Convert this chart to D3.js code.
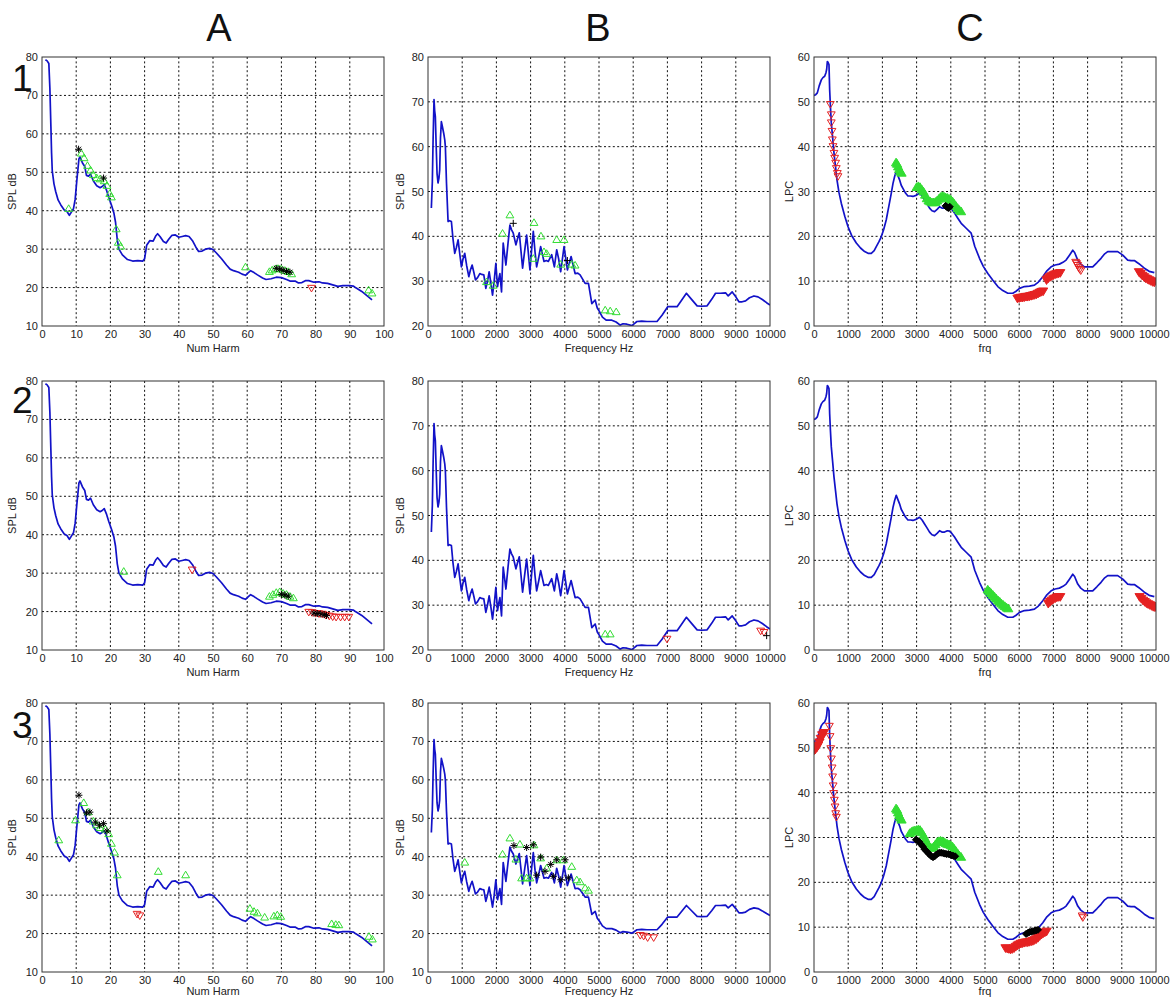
<!DOCTYPE html>
<html>
<head>
<meta charset="utf-8">
<script src="https://cdn.jsdelivr.net/npm/d3@7"></script>
<style>
body { margin: 0; background: #fff; }
text { font-family: "Liberation Sans", Arial, sans-serif; }
</style>
</head>
<body>
<svg id="fig" width="1170" height="998"></svg>
<script>
// column / row titles
var colTitles = ["A", "B", "C"];
var rowTitles = ["1", "2", "3"];

// x ticks
var harmTicks = [0, 10, 20, 30, 40, 50, 60, 70, 80, 90, 100];
var freqTicks = [0, 1000, 2000, 3000, 4000, 5000, 6000, 7000, 8000, 9000, 10000];

// spectrum envelope over harmonic number (column A, same in every row)
var harmCurve = [[1,79.3],[1.5,79],[2,78.3],[2.3,72],[2.6,62],[2.8,55],[3,50.4],[3.5,47],[4,45],[4.7,42.8],[5.5,41.5],[6.5,40.2],[7.3,39.8],[8,38.8],[8.5,39.5],[9.2,40.5],[9.7,43],[10.2,48],[10.8,53.5],[11.1,54],[11.8,52.5],[12.5,51.5],[13,49.2],[13.6,49],[14.2,49.5],[15,47.8],[16,46.5],[17,46],[17.6,46.3],[18.2,46.8],[18.8,45.5],[19.5,43.5],[20.3,41.5],[21,39.5],[21.5,37],[22,32.5],[22.5,30],[23.5,28.5],[25,27.3],[26.5,26.9],[28,27],[29.5,26.9],[30,27.5],[30.6,31],[31.5,32.2],[32.5,32.1],[33.3,33.5],[33.8,34],[34.5,33.3],[35.5,32],[36.3,31.6],[37,32.5],[38,33.6],[39,33.7],[40,33.1],[41,33.3],[42,33.5],[43,33.3],[44,32.2],[45,30.5],[45.8,29.4],[46.8,29.5],[47.8,30],[49,30.2],[50,29.9],[51,29],[52.5,27.5],[54,25.8],[55,24.8],[56,24.4],[57.5,24],[58.5,23.5],[59.5,23.2],[60.5,24],[61,24.4],[62,23.9],[63,23.3],[64.5,22.5],[65.5,22.1],[67,22.3],[68.5,22.7],[70,22.6],[71.5,22.1],[72.5,21.7],[74,21.7],[75,21.2],[76,21.3],[77,21.8],[78,21.8],[79.5,21.4],[81,21.5],[82,21.2],[83.5,21.1],[85,20.7],[86.5,20.3],[88,20.5],[90,20.5],[91,20.4],[92,19.8],[93.5,19],[95,17.9],[96.5,16.8]];

// spectrum over frequency (column B)
var freqCurve = [[98,46.3],[127,52.2],[150,62],[176,70.5],[195,68],[215,66.7],[240,60],[265,54],[293,51.9],[320,53],[342,54.8],[365,62],[391,65.6],[420,64.5],[459,63],[490,61.5],[508,60],[540,52],[587,43.3],[630,43.5],[684,43.3],[730,39.5],[782,36.2],[830,37.5],[880,39.2],[930,36],[977,33.2],[1025,35],[1075,36.2],[1130,33.5],[1193,31],[1240,32.5],[1290,33.6],[1340,32],[1388,30.3],[1450,30.8],[1515,31.7],[1570,31.5],[1632,31.4],[1691,28.4],[1740,30],[1789,32.1],[1840,29.5],[1887,26.9],[1935,30],[1984,34],[2033,28.8],[2070,30.5],[2102,31.7],[2150,27.6],[2199,38.5],[2240,36],[2278,33.6],[2340,38.5],[2395,42.5],[2440,41.5],[2493,40.7],[2571,38.1],[2620,39.5],[2669,40.8],[2766,32.9],[2830,37],[2884,40.3],[2981,32.5],[3030,37],[3079,41.1],[3130,36.5],[3177,33.2],[3240,35.5],[3294,37.7],[3392,34.4],[3460,34.6],[3519,34.4],[3617,35.9],[3695,33.2],[3763,37],[3820,35],[3880,32.1],[3978,37.7],[4076,32.5],[4130,34],[4184,35.5],[4301,31.7],[4380,31.8],[4447,31.4],[4594,29.5],[4692,29.5],[4790,25],[4888,25.8],[4950,24],[5015,23.2],[5100,22],[5210,21.3],[5376,21.3],[5500,20.9],[5620,20.2],[5700,20.5],[5816,20.4],[5963,20.1],[6109,21],[6250,21.1],[6403,21],[6550,21],[6696,21],[6843,22.4],[7009,24.3],[7150,24.3],[7283,24.3],[7420,25.8],[7556,27.3],[7700,26],[7869,24.5],[8000,24.4],[8162,24.5],[8300,26],[8407,27.3],[8550,27.3],[8700,27.4],[8778,26.7],[8895,27.6],[9000,26.5],[9091,25.4],[9186,25.4],[9286,25.6],[9400,26.3],[9531,26.7],[9650,26.5],[9775,25.9],[9900,25.2],[10000,24.7]];

// LPC envelope (column C)
var lpcCurve = [[0,51.4],[50,51.6],[97,52],[150,53.5],[214,54.9],[260,55.4],[312,55.7],[350,56.5],[370,57.2],[390,59],[410,58.8],[438,58.3],[450,55],[458,52.7],[480,49],[506,45.3],[545,42],[584,38.6],[630,35.5],[672,32.6],[730,29.8],[798,27.4],[900,24.5],[993,22.2],[1100,20.2],[1237,18.5],[1360,17.4],[1480,16.6],[1580,16.2],[1675,16.2],[1760,16.8],[1821,17.7],[1900,18.8],[1967,19.9],[2040,21.6],[2113,23.7],[2190,26.8],[2259,29.6],[2310,31.8],[2356,33.3],[2405,34.5],[2450,33.6],[2502,32.6],[2550,31.4],[2600,30.7],[2680,29.6],[2746,29],[2820,29],[2892,28.9],[3000,29.2],[3087,29.6],[3160,29],[3233,28.1],[3300,27.3],[3379,26.3],[3450,25.7],[3525,25.5],[3600,26],[3671,26.6],[3740,26.3],[3817,26.3],[3900,26.6],[3963,26.5],[4030,26],[4109,25.2],[4200,24.1],[4304,22.9],[4450,21.8],[4596,20.7],[4700,17.8],[4839,15.1],[4950,13.3],[5083,11.7],[5230,10.2],[5375,8.8],[5520,7.9],[5667,7.3],[5813,7.3],[5900,7.7],[6008,8.4],[6154,8.8],[6300,8.9],[6446,9.1],[6560,9.8],[6690,11],[6810,12.3],[6933,13.2],[7050,13.6],[7176,13.8],[7280,14.2],[7371,14.7],[7470,15.8],[7566,16.9],[7620,16.4],[7712,14.7],[7800,13.8],[7907,13.2],[8030,13.2],[8150,13.2],[8270,14.1],[8393,15.1],[8500,16.1],[8588,16.6],[8730,16.6],[8880,16.6],[9030,15.8],[9172,14.7],[9270,14.6],[9367,14.6],[9500,13.9],[9659,12.9],[9800,12.2],[9951,11.9]];

// ---- markers, column A ----
var a1Up = [[7.8,40.6],[11.5,55],[12.3,53.8],[13.3,51.8],[14.2,50.6],[15,49.4],[16,48.6],[17,48.3],[18.2,47.8],[19,46.6],[19.8,44.5],[20.3,43.6],[21.7,35.3],[22.3,31.8],[23,30.8],[59.5,25.4],[66.5,24.2],[67.3,24.6],[68.2,24.9],[69,25],[70,24.9],[71,24.5],[72,24.2],[73,23.6],[95.5,19.4],[96.5,18.6]];
var a1Star = [[10.7,56],[18,48.5],[68.5,25],[69.5,24.8],[70.5,24.5],[71.5,24.2],[72.5,24]];
var a1Down = [[78.8,19.8]];

var a2Up = [[23.9,30.5],[66.5,24],[67.5,24.5],[68.5,25],[69.5,25.2],[70.5,24.8],[71.5,24.5],[72.5,24],[73.5,23.6]];
var a2Star = [[70,24.5],[71,24.3],[72,24],[79.5,19.6],[80.5,19.5],[81.5,19.4],[82.5,19.2],[83.2,19]];
var a2Down = [[43.9,30.8],[78,19.8],[79,19.7],[80,19.5],[81,19.4],[82,19.3],[83,19],[84,18.8],[85,18.6],[86,18.5],[87.3,18.5],[88.5,18.5],[89.7,18.5]];

var a3Up = [[4.9,44.4],[9.8,49.6],[12.2,54.1],[13.5,51.7],[15,49.3],[16,48.3],[17,47.6],[18.5,47.2],[19.5,46],[20.3,43.5],[21.2,41.2],[22,35.3],[34,36.2],[42,35.3],[60.8,26.6],[62,25.8],[63,25.4],[65.1,24.3],[67.8,24.6],[68.8,24.9],[69.8,24.5],[84.7,22.6],[85.9,22.4],[86.8,22.3],[95.6,19.3],[96.6,18.6]];
var a3Star = [[10.8,56],[13,51.4],[14,51.6],[15.6,49],[16.8,48.2],[18,48.6],[19,46.7]];
var a3Down = [[27.8,25],[28.6,24.6]];

// ---- markers, column B ----
var b1Up = [[1711,29.9],[1906,29.1],[2180,40.7],[2395,44.8],[3079,35.1],[3099,43.1],[3304,40.1],[3392,36.6],[3470,36.2],[3763,39.3],[3978,39.3],[3880,33.8],[4203,33.8],[4301,33.6],[5181,23.6],[5327,23.4],[5503,23.2]];
var b1Plus = [[2493,42.9],[4076,34.6]];

var b2Up = [[5181,23.6],[5327,23.6]];
var b2Down = [[6989,22.4],[9726,24.2],[9824,23.9]];
var b2Plus = [[9902,23.2]];

var b3Up = [[1075,38.6],[2180,40.7],[2395,44.9],[2571,39.4],[2688,43.3],[2737,34.5],[2884,34.5],[2981,34.5],[3099,43.1],[3294,39.7],[3470,37.1],[3763,39.2],[3959,39.2],[4203,37.5],[4350,34],[4448,33.5],[4594,31.9],[4692,31.3]];
var b3Star = [[2512,42.9],[2884,42.4],[3079,43.1],[3177,35.2],[3294,39.9],[3421,36.2],[3587,38],[3665,34.9],[3763,39.2],[3880,34],[4008,39.2],[4105,34.5]];
var b3Down = [[6207,19.5],[6305,19.3],[6422,18.9],[6598,18.9]];

// ---- markers, column C ----
var c1Down = [[477,49.4],[506,47.1],[506,45.3],[526,43.4],[536,41.5],[555,40],[584,38.5],[604,37.4],[633,36.3],[652,35.1],[682,34],[701,33.3],[7650,14.2],[7680,13.9],[7710,13.5],[7740,13],[7770,12.6],[7800,12.3]];
var c1UpFill = [[2400,36.5],[2430,36.2],[2460,35.6],[2490,35],[2520,34.5],[2560,34.2],[3000,31],[3050,31.2],[3100,31],[3150,30.5],[3200,30],[3250,29.3],[3300,28.5],[3350,28],[3400,27.8],[3450,27.6],[3500,27.6],[3550,27.7],[3600,28],[3650,28.4],[3700,28.8],[3750,29],[3800,28.9],[3850,28.7],[3900,28.6],[3950,28.4],[4000,28.2],[4050,27.8],[4100,27.3],[4150,26.8],[4200,26.3],[4250,25.9],[4300,25.6]];
var c1StarFill = [[3850,26.8],[3880,26.6],[3910,26.4],[3940,26.3],[3970,26.6]];
var c1DownFill = [[5950,6.1],[6000,6.2],[6050,6.3],[6100,6.3],[6150,6.4],[6200,6.5],[6250,6.5],[6300,6.6],[6350,6.7],[6400,6.8],[6450,6.9],[6500,7],[6550,7.2],[6600,7.4],[6650,7.6],[6700,7.7],[6800,10.2],[6850,10.6],[6900,10.9],[6950,11.1],[7000,11.3],[7050,11.5],[7100,11.6],[7150,11.7],[7200,11.8],[9500,12],[9550,11.6],[9600,11.2],[9650,10.9],[9700,10.6],[9750,10.4],[9800,10.2],[9850,10],[9900,9.8],[9950,9.7]];

var c2UpFill = [[5080,13.5],[5130,13.1],[5180,12.7],[5230,12.3],[5280,11.9],[5330,11.5],[5380,11.1],[5430,10.8],[5480,10.4],[5530,10.1],[5580,9.8],[5630,9.5],[5680,9.3]];
var c2DownFill = [[6850,10.3],[6900,10.7],[6950,11],[7000,11.3],[7050,11.5],[7100,11.7],[7150,11.8],[7200,11.8],[9520,11.8],[9570,11.4],[9620,11],[9670,10.7],[9720,10.4],[9770,10.2],[9820,10],[9870,9.8],[9920,9.6],[9970,9.5]];

var c3Down = [[450,54.8],[470,52.5],[490,49.8],[510,47.5],[530,45.5],[545,43.5],[560,41.5],[575,39.8],[595,38.3],[615,36.8],[635,35.3],[655,34.5],[7840,12.5],[7860,12.1]];
var c3DownFill = [[0,49.4],[40,49.6],[80,50],[120,50.5],[160,51.2],[200,52],[240,52.8],[290,53.3],[5600,5.3],[5650,5.2],[5700,5.1],[5750,5],[5800,5.1],[5850,5.3],[5900,5.6],[5950,5.9],[6000,6.1],[6050,6.3],[6100,6.4],[6150,6.5],[6200,6.6],[6250,6.6],[6300,6.7],[6350,6.8],[6400,6.9],[6450,7.1],[6500,7.3],[6550,7.6],[6600,8],[6650,8.3],[6700,8.6],[6750,8.8],[6800,9]];
var c3UpFill = [[2400,36.5],[2430,36.2],[2460,35.6],[2490,35],[2520,34.5],[2560,34],[2800,31],[2850,31.3],[2900,31.5],[2950,31.6],[3000,31.7],[3050,31.8],[3100,31.7],[3150,31.2],[3200,30.5],[3250,29.8],[3300,29],[3350,28.3],[3400,27.8],[3450,27.7],[3500,28],[3550,28.5],[3600,29],[3650,29.2],[3700,29.3],[3750,29.2],[3800,29],[3850,28.8],[3900,28.6],[3950,28.5],[4000,28.3],[4050,28],[4100,27.5],[4150,27],[4200,26.5],[4250,26],[4300,25.7]];
var c3StarFill = [[2980,29.5],[3030,29.3],[3080,29],[3130,28.5],[3180,28],[3230,27.4],[3280,27],[3330,26.6],[3380,26.2],[3430,25.8],[3480,25.6],[3530,25.8],[3580,26.2],[3630,26.5],[3680,26.6],[3730,26.6],[3780,26.5],[3830,26.4],[3880,26.3],[3930,26.3],[3980,26.2],[4030,26],[4080,25.9],[4130,25.8],[6200,8.5],[6250,8.7],[6300,8.9],[6350,9],[6400,9.1],[6450,9.2],[6500,9.3],[6550,9.4]];

// ---------------------------------------------------------------
var svg = d3.select("#fig");
var pw = 342, ph = 269;
var lefts = [42, 428, 814];
var tops = [57, 381, 703];
var green = "#33dd33", red = "#e52222", blue = "#1212c8";

var columns = [
    {curve: harmCurve, xdom: [0, 100], xticks: harmTicks, xlabel: "Num Harm", ylabel: "SPL dB", ylabOff: -26},
    {curve: freqCurve, xdom: [0, 10000], xticks: freqTicks, xlabel: "Frequency Hz", ylabel: "SPL dB", ylabOff: -24},
    {curve: lpcCurve, xdom: [0, 10000], xticks: freqTicks, xlabel: "frq", ylabel: "LPC", ylabOff: -21}
];

// each panel: y range + its marker sets
var panels = [
    {r: 0, c: 0, ydom: [10, 80], marks: [[a1Up, "up"], [a1Down, "down"], [a1Star, "star"]]},
    {r: 0, c: 1, ydom: [20, 80], marks: [[b1Up, "up"], [b1Plus, "plus"]]},
    {r: 0, c: 2, ydom: [0, 60], marks: [[c1Down, "down"], [c1UpFill, "upf"], [c1DownFill, "downf"], [c1StarFill, "blk"]]},
    {r: 1, c: 0, ydom: [10, 80], marks: [[a2Up, "up"], [a2Down, "down"], [a2Star, "star"]]},
    {r: 1, c: 1, ydom: [20, 80], marks: [[b2Up, "up"], [b2Down, "down"], [b2Plus, "plus"]]},
    {r: 1, c: 2, ydom: [0, 60], marks: [[c2UpFill, "upf"], [c2DownFill, "downf"]]},
    {r: 2, c: 0, ydom: [10, 80], marks: [[a3Up, "up"], [a3Down, "down"], [a3Star, "star"]]},
    {r: 2, c: 1, ydom: [10, 80], marks: [[b3Up, "up"], [b3Down, "down"], [b3Star, "star"]]},
    {r: 2, c: 2, ydom: [0, 60], marks: [[c3Down, "down"], [c3DownFill, "downf"], [c3UpFill, "upf"], [c3StarFill, "blk"]]}
];

var shapes = {
    up:    {d: "M0,-3.6L3.9,3L-3.9,3Z", stroke: green, fill: "none"},
    down:  {d: "M0,3.6L3.9,-3L-3.9,-3Z", stroke: red, fill: "none"},
    upf:   {d: "M0,-4.2L4.6,3.5L-4.6,3.5Z", stroke: green, fill: green},
    downf: {d: "M0,4.2L4.6,-3.5L-4.6,-3.5Z", stroke: red, fill: red},
    blk:   {d: "M0,-3.5L3.5,0L0,3.5L-3.5,0Z", stroke: "#000", fill: "#000"},
    star:  {d: "M-3.5,0H3.5M0,-3.5V3.5M-2.5,-2.5L2.5,2.5M-2.5,2.5L2.5,-2.5", stroke: "#000", fill: "none"},
    plus:  {d: "M-3.5,0H3.5M0,-3.5V3.5", stroke: "#000", fill: "none"}
};

panels.forEach(function(p, i) {
    var col = columns[p.c];
    var g = svg.append("g").attr("transform", "translate(" + lefts[p.c] + "," + tops[p.r] + ")");
    var x = d3.scaleLinear().domain(col.xdom).range([0, pw]);
    var y = d3.scaleLinear().domain(p.ydom).range([ph, 0]);
    var yticks = d3.range(p.ydom[0], p.ydom[1] + 1, 10);

    g.append("rect").attr("width", pw).attr("height", ph).attr("fill", "#fff");

    // dotted grid
    g.append("g").selectAll("line.vx").data(col.xticks.slice(1, -1)).enter().append("line")
        .attr("x1", function(d) { return x(d); }).attr("x2", function(d) { return x(d); })
        .attr("y1", 0).attr("y2", ph);
    g.append("g").selectAll("line.hy").data(yticks.slice(1, -1)).enter().append("line")
        .attr("y1", function(d) { return y(d); }).attr("y2", function(d) { return y(d); })
        .attr("x1", 0).attr("x2", pw);
    g.selectAll("line").attr("stroke", "#111").attr("stroke-width", 1).attr("stroke-dasharray", "2,2.4");

    var xa = g.append("g").attr("transform", "translate(0," + ph + ")")
        .call(d3.axisBottom(x).tickValues(col.xticks).tickSize(0).tickPadding(4).tickFormat(d3.format("d")));
    var ya = g.append("g")
        .call(d3.axisLeft(y).tickValues(yticks).tickSize(0).tickPadding(4));
    [xa, ya].forEach(function(a) {
        a.select(".domain").remove();
        a.selectAll("text").attr("font-size", 11).attr("fill", "#222")
            .attr("font-family", "'Liberation Sans', Arial, sans-serif");
    });
    // rightmost column: keep the last tick label inside the page
    if (p.c === 2) {
        xa.selectAll(".tick:last-of-type text").attr("text-anchor", "end").attr("dx", "13");
    }

    var xlabY = p.r === 2 ? ph + 23 : ph + 26;
    g.append("text").attr("x", pw / 2).attr("y", xlabY).attr("text-anchor", "middle")
        .attr("font-size", 11).attr("fill", "#222").text(col.xlabel);
    g.append("text").attr("transform", "translate(" + col.ylabOff + "," + (ph / 2) + ") rotate(-90)")
        .attr("text-anchor", "middle").attr("font-size", 11).attr("fill", "#222").text(col.ylabel);

    g.append("clipPath").attr("id", "clip" + i).append("rect").attr("width", pw).attr("height", ph);
    var inner = g.append("g").attr("clip-path", "url(#clip" + i + ")");

    var line = d3.line().x(function(d) { return x(d[0]); }).y(function(d) { return y(d[1]); });
    inner.append("path").datum(col.curve).attr("d", line)
        .attr("fill", "none").attr("stroke", blue).attr("stroke-width", 1.7).attr("stroke-linejoin", "round");

    p.marks.forEach(function(m) {
        var s = shapes[m[1]];
        inner.append("g").selectAll("path").data(m[0]).enter().append("path")
            .attr("transform", function(d) { return "translate(" + x(d[0]) + "," + y(d[1]) + ")"; })
            .attr("d", s.d).attr("fill", s.fill).attr("stroke", s.stroke).attr("stroke-width", 1);
    });

    g.append("rect").attr("width", pw).attr("height", ph)
        .attr("fill", "none").attr("stroke", "#333").attr("stroke-width", 1);
});

// big column / row titles
var colX = [219, 598, 970];
svg.selectAll("text.coltitle").data(colTitles).enter().append("text")
    .attr("class", "coltitle").attr("x", function(d, i) { return colX[i]; }).attr("y", 41)
    .attr("text-anchor", "middle").attr("font-size", 38).attr("fill", "#111").text(function(d) { return d; });

var rowY = [91, 413, 738];
svg.selectAll("text.rowtitle").data(rowTitles).enter().append("text")
    .attr("class", "rowtitle").attr("x", 12).attr("y", function(d, i) { return rowY[i]; })
    .attr("font-size", 37).attr("fill", "#111").text(function(d) { return d; });
</script>
</body>
</html>
